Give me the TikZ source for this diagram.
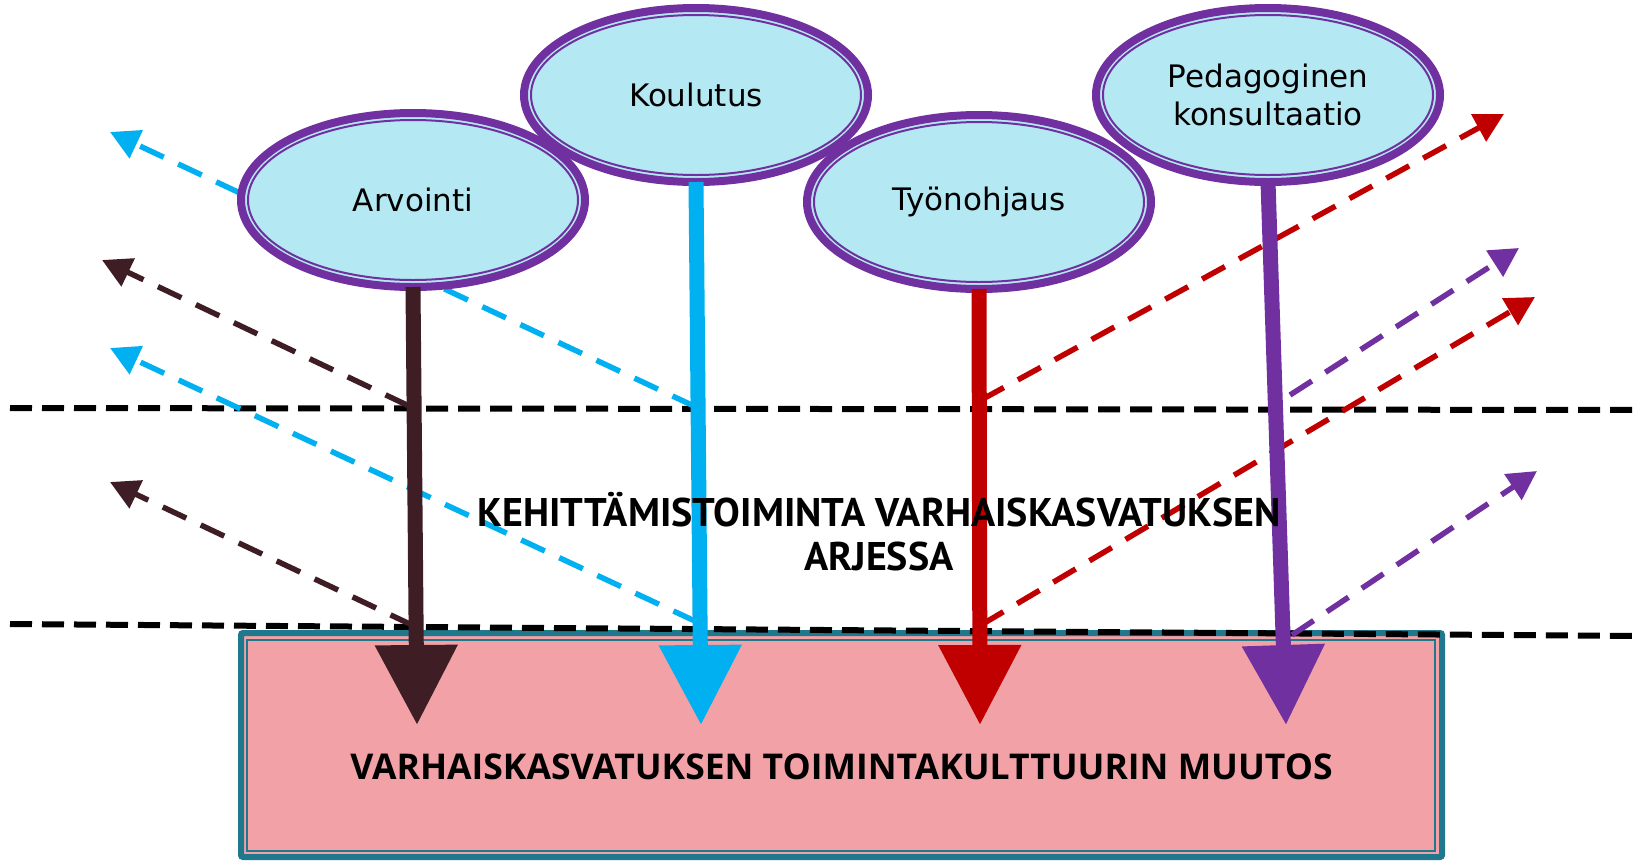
\documentclass[tikz,border=0pt]{standalone}
\usepackage{fontspec}
\setmainfont{DejaVu Sans}
\newfontfamily\bubblefont{DejaVu Sans}
\newfontfamily\middlefont{PT Sans}
\newfontfamily\boxfont{Open Sans}
\usetikzlibrary{arrows.meta,shapes.geometric,calc}
\definecolor{BubbleFill}{RGB}{180,232,243}
\definecolor{BubbleLine}{RGB}{112,48,160}
\definecolor{DarkArrow}{RGB}{62,30,36}
\definecolor{CyanArrow}{RGB}{0,176,240}
\definecolor{RedArrow}{RGB}{192,0,0}
\definecolor{PurpleArrow}{RGB}{112,48,160}
\definecolor{BoxFill}{RGB}{242,162,166}
\definecolor{BoxLine}{RGB}{31,120,140}
\tikzset{
  bubble/.style={ellipse, draw=BubbleLine, fill=BubbleFill, line width=8pt,
    minimum width=344pt, minimum height=174pt, inner sep=0pt, outer sep=0pt,
    align=center, font=\bubblefont\fontsize{31}{38}\selectfont},
  bigarrow/.style={line width=15pt, -{Triangle[length=80pt,width=79pt]}},
  feedback/.style={line width=5.5pt, dash pattern=on 26pt off 16pt,
    -{Triangle[length=29pt,width=30pt]}},
  level/.style={line width=6pt, dash pattern=on 22pt off 10pt},
  changebox/.style={rectangle, draw=BoxLine, fill=BoxFill, line width=6pt,
    rounded corners=2pt, minimum width=1201pt, minimum height=224pt,
    inner sep=0pt, outer sep=0pt}
}

\begin{document}
\begin{tikzpicture}[x=1pt,y=-1pt]
    \useasboundingbox (0,0) rectangle (1641,860);
    %%Change box
    \node[changebox] (box) at (841.5,745) {};
    \draw[BoxLine, line width=1.5pt] ([shift={(6,7)}]box.north west) rectangle ([shift={(-7,-6)}]box.south east);
    %%Levels
    \coordinate (upL) at (10,408);
    \coordinate (upR) at (1641,410);
    \coordinate (loL) at (10,624);
    \coordinate (loR) at (1641,636);
    \draw[level] (upL) -- (upR);
    \draw[level] (loL) -- (loR);
    %%Feedback
    \coordinate (arvUp) at (409,406);
    \coordinate (arvUpTip) at (102,260);
    \coordinate (arvLo) at (414,626);
    \coordinate (arvLoTip) at (110,482);
    \coordinate (kouUp) at (696,407);
    \coordinate (kouUpTip) at (110,132);
    \coordinate (kouLo) at (697,622);
    \coordinate (kouLoTip) at (110,348);
    \coordinate (tyoUp) at (981,400);
    \coordinate (tyoUpTip) at (1504,114);
    \coordinate (tyoLo) at (981,625);
    \coordinate (tyoLoTip) at (1535,297);
    \coordinate (pedUp) at (1290,395);
    \coordinate (pedUpTip) at (1519,248);
    \coordinate (pedLo) at (1292,635);
    \coordinate (pedLoTip) at (1537,471);
    \draw[feedback, DarkArrow] (arvUp) -- (arvUpTip);
    \draw[feedback, DarkArrow] (arvLo) -- (arvLoTip);
    \draw[feedback, CyanArrow] (kouUp) -- (kouUpTip);
    \draw[feedback, CyanArrow] (kouLo) -- (kouLoTip);
    \draw[feedback, RedArrow] (tyoUp) -- (tyoUpTip);
    \draw[feedback, RedArrow] (tyoLo) -- (tyoLoTip);
    \draw[feedback, PurpleArrow] (pedUp) -- (pedUpTip);
    \draw[feedback, PurpleArrow] (pedLo) -- (pedLoTip);
    %%Bubbles
    \node[bubble] (arv) at (413,200) {Arvointi};
    \node[bubble] (kou) at (696,95) {Koulutus};
    \node[bubble] (tyo) at (979,202) {Työnohjaus};
    \node[bubble] (ped) at (1268,95) {Pedagoginen\\konsultaatio};
    \foreach \b in {arv,kou,tyo,ped}
        \draw[BubbleLine, line width=2pt] (\b.center) ellipse [x radius=165pt, y radius=80pt];
    %%Main arrows
    \coordinate (arvTip) at (417,725);
    \coordinate (kouTip) at (701,725);
    \coordinate (tyoTip) at (980,725);
    \coordinate (pedTip) at (1286,725);
    \draw[bigarrow, DarkArrow] (arv.south) -- (arvTip);
    \draw[bigarrow, CyanArrow] (kou.south) -- (kouTip);
    \draw[bigarrow, RedArrow] (tyo.south) -- (tyoTip);
    \draw[bigarrow, PurpleArrow] (ped.south) -- (pedTip);
    %%Texts
    \node[align=center, font=\middlefont\bfseries\fontsize{40}{44}\selectfont] (arki) at (879,532)
        {KEHITTÄMISTOIMINTA VARHAISKASVATUKSEN\\ARJESSA};
    \node[font=\boxfont\bfseries\fontsize{35.5}{42}\selectfont] (muutos) at ([yshift=-22pt]box.center)
        {VARHAISKASVATUKSEN TOIMINTAKULTTUURIN MUUTOS};
\end{tikzpicture}
\end{document}
